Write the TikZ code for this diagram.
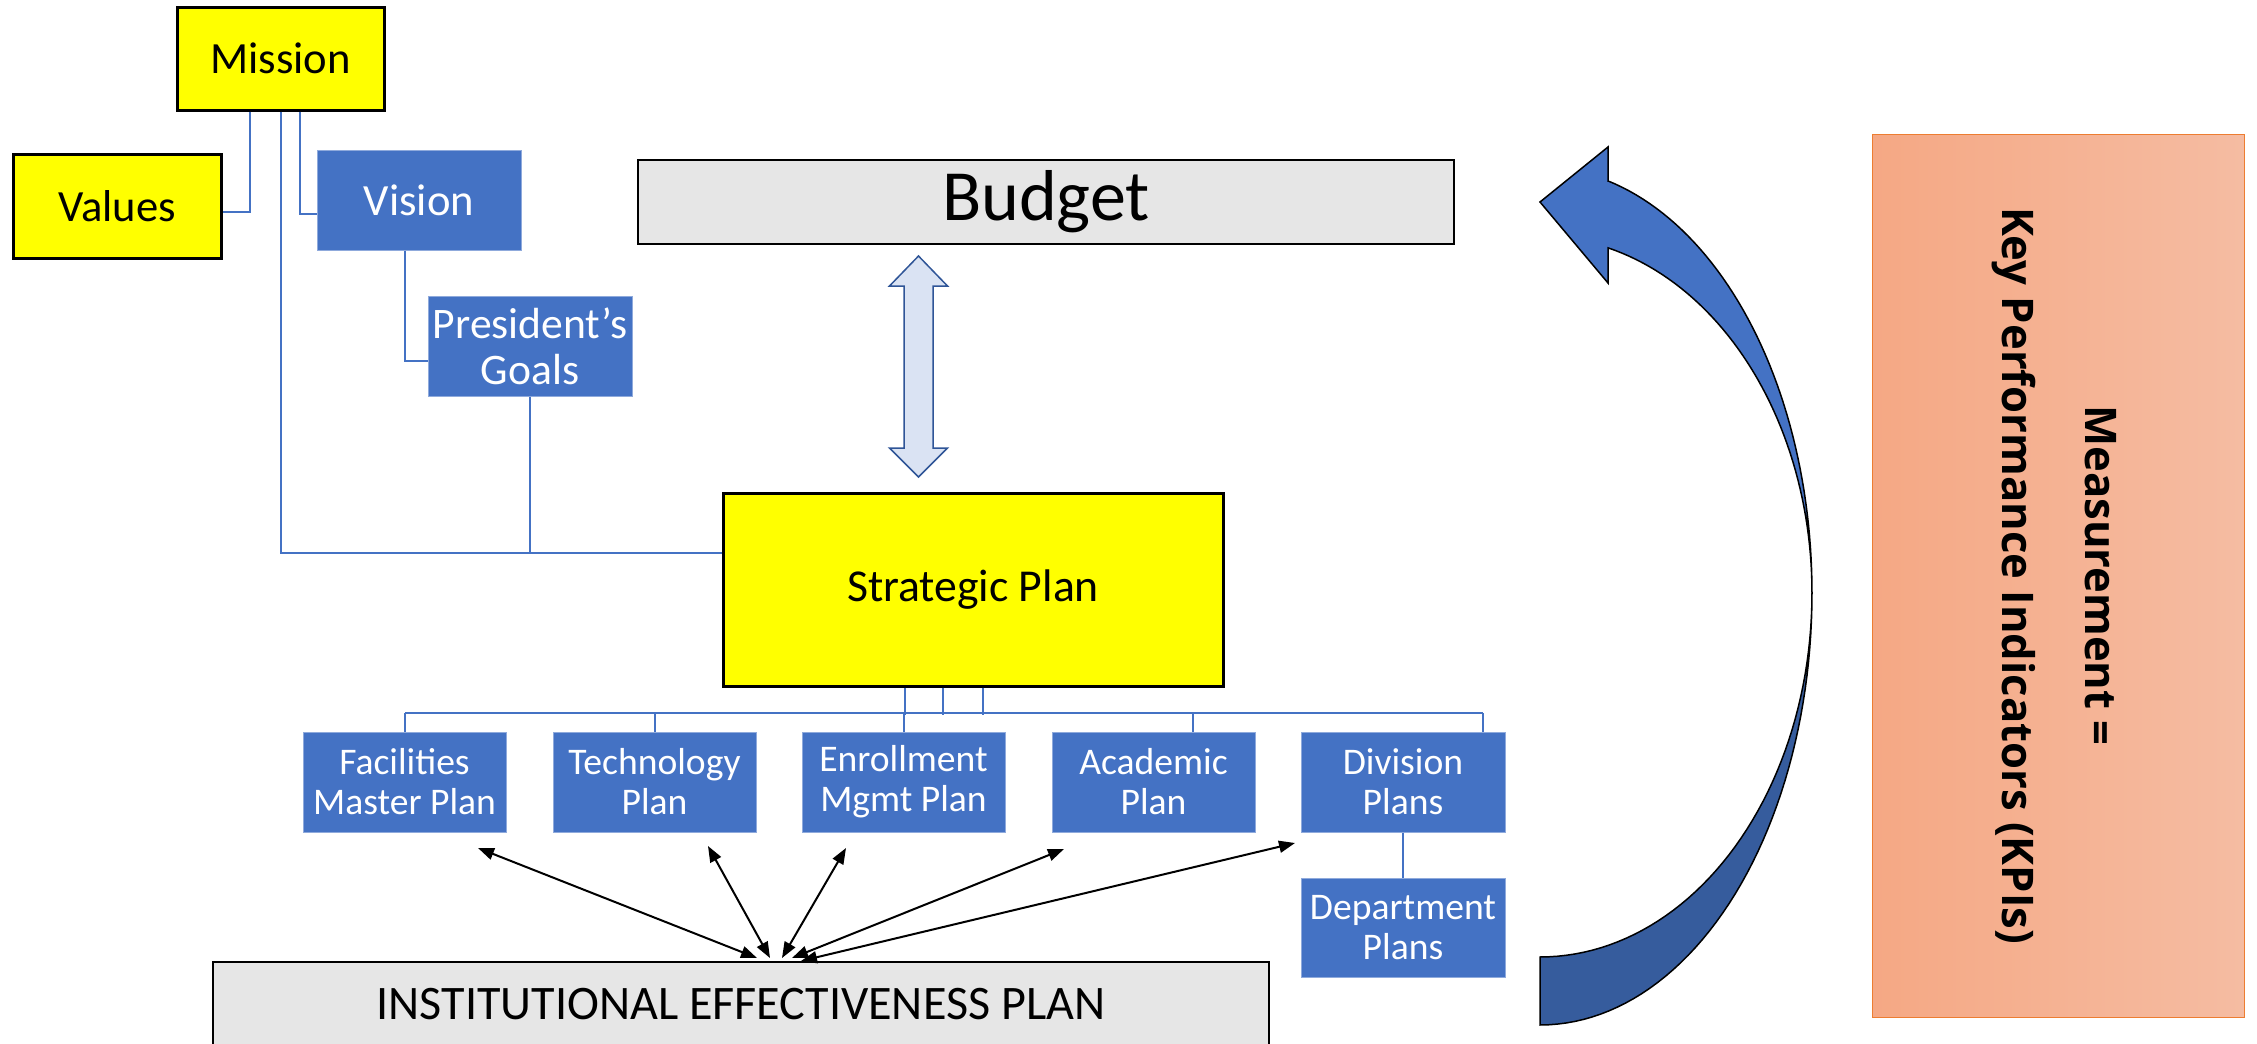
\documentclass[tikz,border=0pt]{standalone}
\usepackage{fontspec}
\setmainfont{Carlito}
\newfontfamily\kpifont{Open Sans}
\usetikzlibrary{arrows.meta}
\definecolor{ppyellow}{RGB}{255,255,0}
\definecolor{ppblue}{RGB}{68,114,196}
\definecolor{ppdark}{RGB}{54,92,157}
\definecolor{ppgray}{RGB}{230,230,230}
\definecolor{ppedge}{RGB}{143,170,220}
\definecolor{arrfill}{RGB}{218,227,243}
\definecolor{arredge}{RGB}{47,85,151}
\definecolor{kpiL}{RGB}{245,168,132}
\definecolor{kpiR}{RGB}{245,188,162}
\definecolor{kpiedge}{RGB}{237,125,49}
\begin{document}
\begin{tikzpicture}[x=0.1mm,y=-0.1mm,
  yellowbox/.style={draw=black, line width=0.3mm, fill=ppyellow, inner sep=0pt, align=center},
  bluebox/.style={draw=ppedge, line width=0.1mm, fill=ppblue, text=white, inner sep=0pt, align=center},
  graybox/.style={draw=black, line width=0.15mm, fill=ppgray, inner sep=0pt, align=center},
  smallbox/.style={minimum width=20.4mm, minimum height=10mm, font=\fontsize{12.7}{13.2}\selectfont},
  planbox/.style={bluebox, minimum width=20.3mm, minimum height=10mm, font=\fontsize{10.7}{11.4}\selectfont},
  conn/.style={draw=ppblue, line width=0.2mm},
  link/.style={draw=black, line width=0.2mm, {Triangle[length=1.6mm,width=1.2mm]}-{Triangle[length=1.6mm,width=1.2mm]}},
  ]
\useasboundingbox (0,0) rectangle (2257,1044);

% top-left cluster
\node[yellowbox, smallbox, minimum width=20.7mm, minimum height=10.3mm] (mission) at (280.5,58.5) {Mission};
\node[yellowbox, smallbox, minimum width=20.8mm, minimum height=10.4mm] (values) at (117,206) {Values};
\node[bluebox, smallbox] (vision) at (419,200) {Vision};
\node[bluebox, smallbox, font=\fontsize{12.4}{13.2}\selectfont] (goals) at (530,346) {President’s\\Goals};

% budget and strategic plan
\node[graybox, minimum width=81.6mm, minimum height=8.4mm, font=\fontsize{20.5}{24}\selectfont] (budget) at (1046,202) {Budget};
\node[yellowbox, minimum width=50mm, minimum height=19.3mm, font=\fontsize{13}{15}\selectfont] (strat) at (973,589.5) {Strategic Plan};

% plans
\node[planbox] (facil) at (404.5,782) {Facilities\\Master Plan};
\node[planbox] (tech) at (654.5,782) {Technology\\Plan};
\node[planbox] (enroll) at (903.5,782) {Enrollment\\Mgmt Plan};
\node[planbox] (acad) at (1153.5,782) {Academic\\Plan};
\node[planbox, minimum width=20.4mm] (div) at (1403,782) {Division\\Plans};
\node[planbox, minimum width=20.4mm, minimum height=9.9mm] (dept) at (1403,927.5) {Department\\Plans};

% IEP
\node[graybox, minimum width=105.6mm, minimum height=8.4mm, font=\fontsize{13.7}{16}\selectfont] (iep) at (741,1004) {INSTITUTIONAL EFFECTIVENESS PLAN};

% KPI box
\node[draw=kpiedge, line width=0.1mm, left color=kpiL, right color=kpiR, minimum width=37.2mm, minimum height=88.3mm, inner sep=0pt] (kpi) at (2058,575.5) {};
\node[rotate=-90, align=center, inner sep=0pt, font=\kpifont\bfseries\fontsize{12.4}{23.6}\selectfont] (kpitext) at (2054,575.5) {Measurement =\\Key Performance Indicators (KPIs)};

% blue connectors
\draw[conn] ([xshift=-3.05mm]mission.south) |- ([yshift=-0.6mm]values.east);
\draw[conn] ([xshift=1.95mm]mission.south) |- ([yshift=-1.4mm]vision.west);
\coordinate (sj) at ([yshift=3.65mm]strat.west);
\draw[conn] (mission.south) |- (sj);
\draw[conn] ([xshift=-1.4mm]vision.south) |- ([yshift=-1.5mm]goals.west);
\draw[conn] (goals.south) -- (goals.south |- sj);

\coordinate (busL) at (405,713);
\coordinate (busR) at (1483,713);
\draw[conn] (busL) -- (busR);
\draw[conn] ([xshift=-6.8mm]strat.south) -- ++(0,27);
\draw[conn] ([xshift=-3.0mm]strat.south) -- ++(0,27);
\draw[conn] ([xshift=1.0mm]strat.south) -- ++(0,27);
\draw[conn] (facil.north) -- ++(0,-19);
\draw[conn] (tech.north) -- ++(0,-19);
\draw[conn] (enroll.north) -- ++(0,-19);
\draw[conn] ([xshift=3.95mm]acad.north) -- ++(0,-19);
\draw[conn] ([xshift=8mm]div.north) -- ++(0,-19);
\draw[conn] (div.south) -- (dept.north);

% budget <-> strategic block arrow
\filldraw[fill=arrfill, draw=arredge, line width=0.15mm]
  (918.5,256) -- (947.5,286) -- (933,286) -- (933,448) -- (947.5,448) -- (918.5,477)
  -- (889.5,448) -- (904,448) -- (904,286) -- (889.5,286) -- cycle;

% black double arrows
\coordinate (p1) at (478,848);  \coordinate (q1) at (757,958);
\coordinate (p2) at (708,846);  \coordinate (q2) at (770,958);
\coordinate (p3) at (846,848);  \coordinate (q3) at (782,958);
\coordinate (p4) at (1064,849); \coordinate (q4) at (792,958);
\coordinate (p5) at (1295,843); \coordinate (q5) at (801,961);
\draw[link] (p1) -- (q1);
\draw[link] (p2) -- (q2);
\draw[link] (p3) -- (q3);
\draw[link] (p4) -- (q4);
\draw[link] (p5) -- (q5);

% curved arrow
\filldraw[fill=ppdark, draw=black, line width=0.15mm]
  plot[domain=0:-90, samples=50, variable=\t] ({1540+272*cos(\t)},{593-432*sin(\t)})
  -- (1540,957)
  -- plot[domain=-90:0, samples=50, variable=\t] ({1540+272*cos(\t)},{593-364*sin(\t)})
  -- cycle;
\filldraw[fill=ppblue, draw=black, line width=0.15mm]
  (1540,202) -- (1608,147) -- (1608,181)
  -- plot[domain=75.5:0, samples=50, variable=\t] ({1540+272*cos(\t)},{593-425.6*sin(\t)})
  -- plot[domain=0:75.5, samples=50, variable=\t] ({1540+272*cos(\t)},{593-356.5*sin(\t)})
  -- (1608,283) -- cycle;
\end{tikzpicture}
\end{document}
